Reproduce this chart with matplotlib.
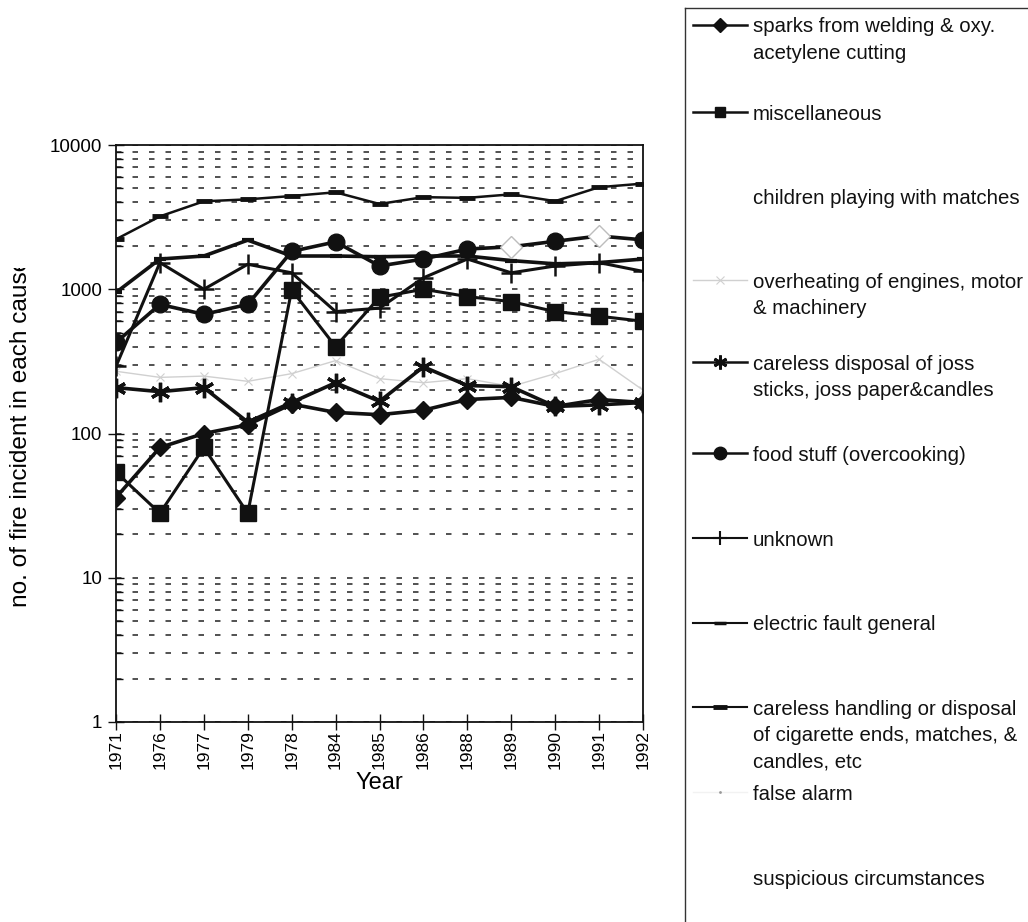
import matplotlib
matplotlib.use("Agg")
import matplotlib.pyplot as plt
from matplotlib.lines import Line2D
from matplotlib.transforms import Bbox, TransformedBbox
import numpy as np

plt.rcParams['font.family'] = ['Liberation Sans', 'DejaVu Sans']

# -------------------------
# Data
# -------------------------
years = ["1971", "1976", "1977", "1979", "1978", "1984", "1985",
         "1986", "1988", "1989", "1990", "1991", "1992"]

sparks = [36, 80, 100, 115, 160, 140, 135, 145, 172, 178, 154, 172, 164]
misc = [54, 28, 80, 28, 990, 400, 880, 1000, 890, 820, 700, 650, 600]
overheating = [270, 245, 250, 230, 260, 320, 240, 225, 240, 212, 260, 327, 200]
joss = [208, 195, 208, 120, 164, 225, 167, 290, 215, 211, 154, 158, 164]
food = [428, 785, 670, 785, 1830, 2130, 1450, 1620, 1900, 1970, 2150, 2340, 2200]
unknown = [292, 1530, 1000, 1490, 1300, 700, 740, 1200, 1620, 1300, 1450, 1530, 1330]
electric = [950, 1620, 1700, 2190, 1700, 1700, 1680, 1700, 1700, 1580, 1500, 1530, 1620]
cigarette = [2220, 3200, 4070, 4200, 4430, 4700, 3900, 4350, 4300, 4550, 4080, 5100, 5400]

legend_labels = [
    "sparks from welding & oxy.\nacetylene cutting",
    "miscellaneous",
    "children playing with matches",
    "overheating of engines, motor\n& machinery",
    "careless disposal of joss\nsticks, joss paper&candles",
    "food stuff (overcooking)",
    "unknown",
    "electric fault general",
    "careless handling or disposal\nof cigarette ends, matches, &\ncandles, etc",
    "false alarm",
    "suspicious circumstances",
]

# -------------------------
# Figure
# -------------------------
W, H = 1028, 922
fig = plt.figure(figsize=(W / 100, H / 100), dpi=100)
ax = fig.add_axes([116 / W, 1 - 722 / H, (643 - 116) / W, (722 - 145) / H])

x = np.arange(len(years))
black = "#111111"

ax.plot(x, overheating, color="#d0d0d0", lw=1.0, marker="x", ms=6, mew=0.8, zorder=2)
ax.plot(x, cigarette, color=black, lw=1.8, marker="_", ms=11, mew=3.5, zorder=3)
ax.plot(x, electric, color=black, lw=2.6, marker="_", ms=9, mew=3, zorder=3)
ax.plot(x, unknown, color=black, lw=2.2, marker="+", ms=14, mew=1.8, zorder=3)
ax.plot(x, food, color=black, lw=2.6, marker="o", ms=12,
        markevery=[0, 1, 2, 3, 4, 5, 6, 7, 8, 10, 12], zorder=4)
ax.plot(x, food, ls="none", marker="D", ms=11, mfc="white", mec="#bdbdbd",
        mew=1.0, markevery=[9, 11], zorder=4)
ax.plot(x, joss, color=black, lw=2.6, marker=(6, 2, 0), ms=14, mew=2.4, zorder=4)
ax.plot(x, misc, color=black, lw=2.2, marker="s", ms=11, zorder=4)
ax.plot(x, sparks, color=black, lw=2.6, marker="D", ms=9, zorder=5)

ax.set_yscale("log")
ax.set_ylim(1, 10000)
ax.set_xlim(0, len(years) - 1)
ax.set_xticks(x)
ax.set_xticklabels(years, rotation=90, fontsize=12.5)
ax.set_yticks([1, 10, 100, 1000, 10000])
ax.set_yticklabels(["1", "10", "100", "1000", "10000"], fontsize=13.5)
ax.yaxis.set_minor_locator(matplotlib.ticker.LogLocator(base=10, subs=np.arange(2, 10)))
ax.yaxis.set_minor_formatter(matplotlib.ticker.NullFormatter())
ax.tick_params(axis="both", which="major", direction="inout", length=12, width=1, color=black)
ax.tick_params(axis="x", which="major", pad=0)
ax.tick_params(axis="y", which="major", pad=4)
ax.tick_params(axis="y", which="minor", direction="in", length=5, width=1, color=black)
ax.grid(True, axis="y", which="both", color="#222222", lw=1.1, ls=(0, (3.6, 7.2)))
ax.set_axisbelow(True)
for s in ax.spines.values():
    s.set_color(black)
    s.set_linewidth(1.3)

ax.set_xlabel("Year", fontsize=17, labelpad=2)

# y label, clipped at the top like in the scan
ylab = fig.text(21 / W, 1 - 607 / H, "no. of fire incident in each cause",
                rotation=90, ha="center", va="bottom", fontsize=17.6)
ylab.set_clip_box(TransformedBbox(Bbox.from_extents(0, 0, 1, 1 - 268 / H), fig.transFigure))
ylab.set_clip_on(True)

# -------------------------
# Legend box (cut at the right and bottom)
# -------------------------
fig.add_artist(Line2D([685 / W, 685 / W], [0, 1 - 8 / H], transform=fig.transFigure,
                      color="#333333", lw=1))
fig.add_artist(Line2D([685 / W, 1], [1 - 8 / H, 1 - 8 / H], transform=fig.transFigure,
                      color="#333333", lw=1))

handle_styles = [
    dict(color=black, lw=1.8, marker="D", ms=7),
    dict(color=black, lw=1.8, marker="s", ms=7),
    None,
    dict(color="#d0d0d0", lw=1.0, marker="x", ms=6, mew=0.8),
    dict(color=black, lw=1.8, marker=(6, 2, 0), ms=10, mew=2),
    dict(color=black, lw=1.8, marker="o", ms=9),
    dict(color=black, lw=1.5, marker="+", ms=10, mew=1.5),
    dict(color=black, lw=1.5, marker="_", ms=8, mew=2.5),
    dict(color=black, lw=1.5, marker="_", ms=10, mew=3.5),
    dict(color="#f2f2f2", lw=1.0, marker=".", ms=2, mec="#999999"),
    None,
]
entry_y = [25, 112, 197, 280, 362, 453, 538, 623, 707, 792, 877]

for label, style, yy in zip(legend_labels, handle_styles, entry_y):
    yf = 1 - yy / H
    if style is not None:
        fig.add_artist(Line2D([693 / W, 720 / W, 747 / W], [yf, yf, yf],
                              transform=fig.transFigure, markevery=[1], **style))
    for i, line in enumerate(label.split("\n")):
        fig.text(753 / W, 1 - (yy + 2 + 26.5 * i) / H, line, ha="left",
                 va="center", fontsize=14.7, color=black)

fig.savefig("out.png", dpi=100)
